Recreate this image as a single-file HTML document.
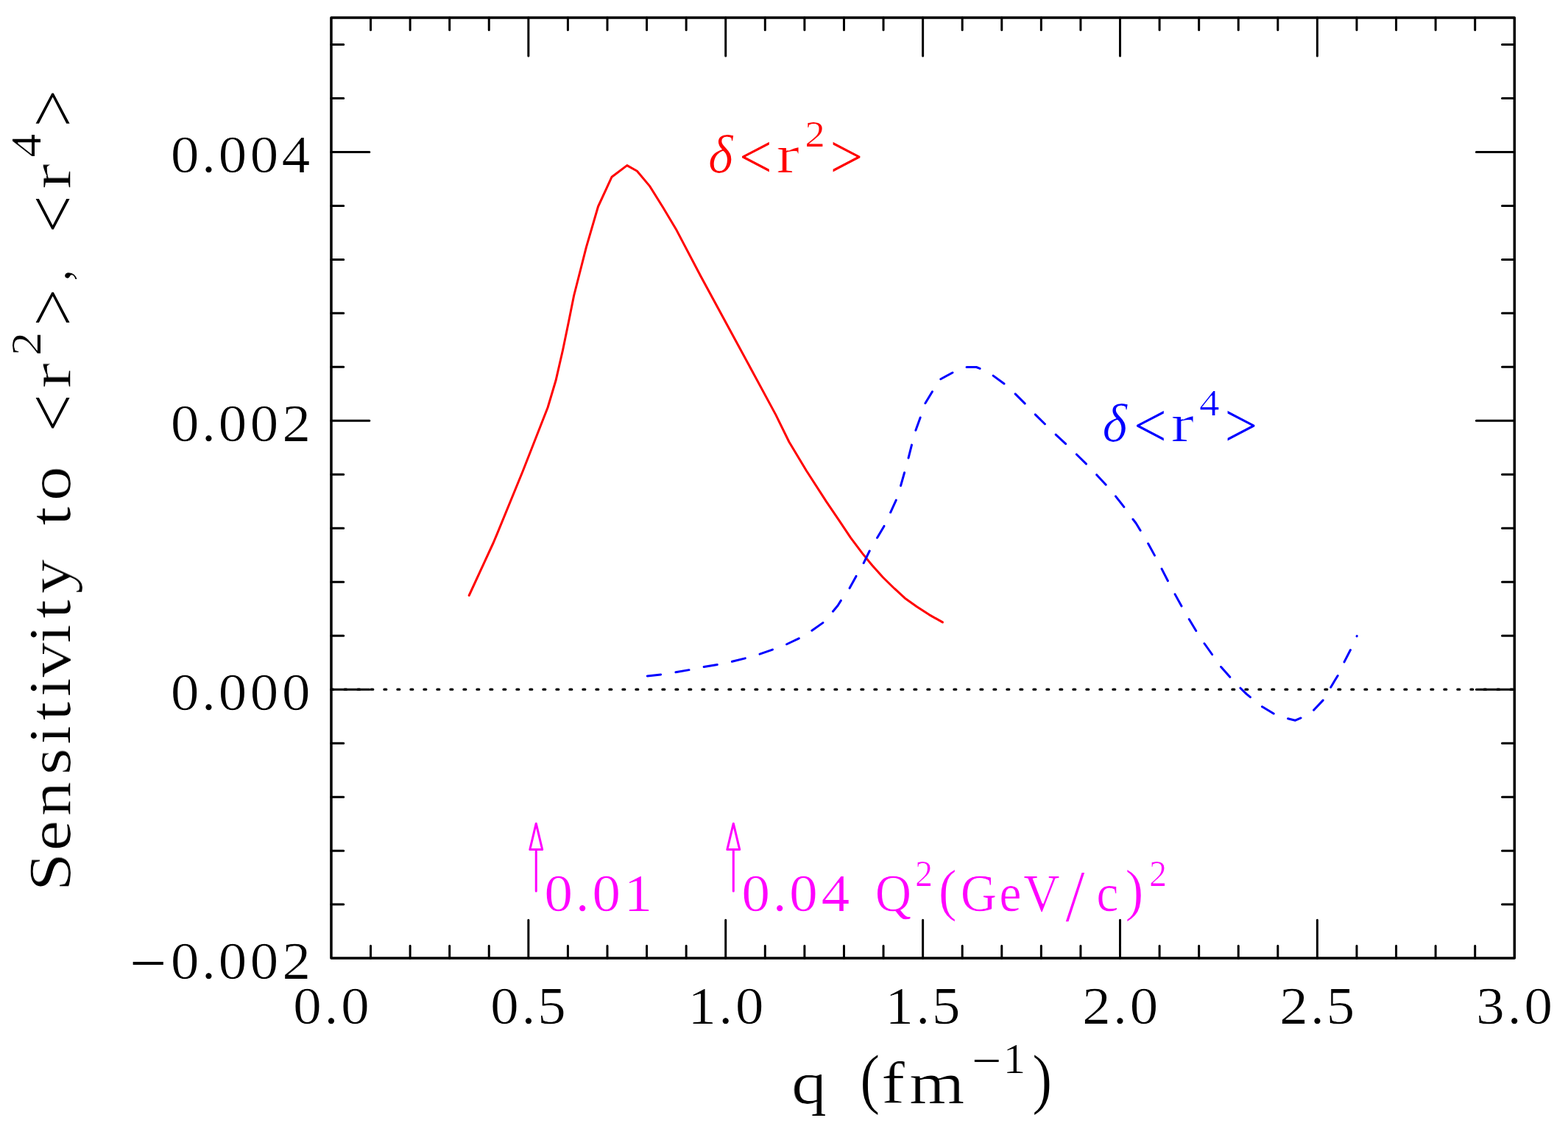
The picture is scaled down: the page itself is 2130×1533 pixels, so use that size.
<!DOCTYPE html>
<html lang="en">
<head>
<meta charset="utf-8">
<title>Sensitivity to &lt;r2&gt;, &lt;r4&gt; versus q</title>
<style>
html,body{margin:0;padding:0;background:#fff;}
body{width:2130px;height:1533px;overflow:hidden;}
svg{display:block;}
text{font-family:"Liberation Serif","DejaVu Serif",serif;white-space:pre;}
</style>
</head>
<body>
<svg width="2130" height="1533" viewBox="0 0 2130 1533">
<defs><filter id="t100h" x="-5%" y="-5%" width="110%" height="110%"><feOffset in="SourceGraphic" dx="1" dy="0" result="a"/><feComposite in="SourceGraphic" in2="a" operator="in"/></filter><filter id="t100v" x="-5%" y="-5%" width="110%" height="110%"><feOffset in="SourceGraphic" dx="0" dy="1" result="a"/><feComposite in="SourceGraphic" in2="a" operator="in"/></filter><filter id="t150h" x="-5%" y="-5%" width="110%" height="110%"><feOffset in="SourceGraphic" dx="1" dy="0" result="a"/><feOffset in="SourceGraphic" dx="2" dy="0" result="b"/><feComposite in="SourceGraphic" in2="a" operator="in" result="c"/><feComposite in="SourceGraphic" in2="b" operator="in" result="d"/><feComposite in="c" in2="d" operator="arithmetic" k1="0" k2="0.5" k3="0.5" k4="0"/></filter><filter id="t150v" x="-5%" y="-5%" width="110%" height="110%"><feOffset in="SourceGraphic" dx="0" dy="1" result="a"/><feOffset in="SourceGraphic" dx="0" dy="2" result="b"/><feComposite in="SourceGraphic" in2="a" operator="in" result="c"/><feComposite in="SourceGraphic" in2="b" operator="in" result="d"/><feComposite in="c" in2="d" operator="arithmetic" k1="0" k2="0.5" k3="0.5" k4="0"/></filter><filter id="t250h" x="-5%" y="-5%" width="110%" height="110%"><feOffset in="SourceGraphic" dx="2" dy="0" result="a"/><feOffset in="SourceGraphic" dx="3" dy="0" result="b"/><feComposite in="SourceGraphic" in2="a" operator="in" result="c"/><feComposite in="SourceGraphic" in2="b" operator="in" result="d"/><feComposite in="c" in2="d" operator="arithmetic" k1="0" k2="0.5" k3="0.5" k4="0"/></filter><filter id="t250v" x="-5%" y="-5%" width="110%" height="110%"><feOffset in="SourceGraphic" dx="0" dy="2" result="a"/><feOffset in="SourceGraphic" dx="0" dy="3" result="b"/><feComposite in="SourceGraphic" in2="a" operator="in" result="c"/><feComposite in="SourceGraphic" in2="b" operator="in" result="d"/><feComposite in="c" in2="d" operator="arithmetic" k1="0" k2="0.5" k3="0.5" k4="0"/></filter></defs>
<rect width="2130" height="1533" fill="#fff"/>
<rect x="449.95" y="24" width="1607.35" height="1277.1" fill="none" stroke="#000" stroke-width="3.5" stroke-linejoin="round"/>
<path d="M503.53 1301.1v-16.8M503.53 24v16.8M557.11 1301.1v-16.8M557.11 24v16.8M610.69 1301.1v-16.8M610.69 24v16.8M664.26 1301.1v-16.8M664.26 24v16.8M717.84 1301.1v-51.9M717.84 24v51.9M771.42 1301.1v-16.8M771.42 24v16.8M825 1301.1v-16.8M825 24v16.8M878.58 1301.1v-16.8M878.58 24v16.8M932.16 1301.1v-16.8M932.16 24v16.8M985.73 1301.1v-51.9M985.73 24v51.9M1039.31 1301.1v-16.8M1039.31 24v16.8M1092.89 1301.1v-16.8M1092.89 24v16.8M1146.47 1301.1v-16.8M1146.47 24v16.8M1200.05 1301.1v-16.8M1200.05 24v16.8M1253.62 1301.1v-51.9M1253.62 24v51.9M1307.2 1301.1v-16.8M1307.2 24v16.8M1360.78 1301.1v-16.8M1360.78 24v16.8M1414.36 1301.1v-16.8M1414.36 24v16.8M1467.94 1301.1v-16.8M1467.94 24v16.8M1521.52 1301.1v-51.9M1521.52 24v51.9M1575.1 1301.1v-16.8M1575.1 24v16.8M1628.67 1301.1v-16.8M1628.67 24v16.8M1682.25 1301.1v-16.8M1682.25 24v16.8M1735.83 1301.1v-16.8M1735.83 24v16.8M1789.41 1301.1v-51.9M1789.41 24v51.9M1842.99 1301.1v-16.8M1842.99 24v16.8M1896.57 1301.1v-16.8M1896.57 24v16.8M1950.14 1301.1v-16.8M1950.14 24v16.8M2003.72 1301.1v-16.8M2003.72 24v16.8M449.95 1228.12h16.8M2057.3 1228.12h-16.8M449.95 1155.15h16.8M2057.3 1155.15h-16.8M449.95 1082.17h16.8M2057.3 1082.17h-16.8M449.95 1009.19h16.8M2057.3 1009.19h-16.8M449.95 936.21h51.9M2057.3 936.21h-51.9M449.95 863.24h16.8M2057.3 863.24h-16.8M449.95 790.26h16.8M2057.3 790.26h-16.8M449.95 717.28h16.8M2057.3 717.28h-16.8M449.95 644.31h16.8M2057.3 644.31h-16.8M449.95 571.33h51.9M2057.3 571.33h-51.9M449.95 498.35h16.8M2057.3 498.35h-16.8M449.95 425.37h16.8M2057.3 425.37h-16.8M449.95 352.4h16.8M2057.3 352.4h-16.8M449.95 279.42h16.8M2057.3 279.42h-16.8M449.95 206.44h51.9M2057.3 206.44h-51.9M449.95 133.47h16.8M2057.3 133.47h-16.8M449.95 60.49h16.8M2057.3 60.49h-16.8" fill="none" stroke="#000" stroke-width="3.0" stroke-linecap="round"/>
<path d="M449.95 936.21H2057.3" fill="none" stroke="#000" stroke-width="3.3" stroke-linecap="round" stroke-dasharray="2.8 15.2"/>
<polyline points="637.2,808.5 670.2,737 675.3,724.8 710.1,640 744.1,553.3 755,516.8 764.5,475.5 772.1,438.8 779.6,401.5 796.4,335.7 812.5,280.5 831.1,240.2 851.8,224.6 865.4,232.2 882.5,252.6 900.4,281.3 919.1,312.6 952,375.2 1003,469.2 1053.8,563.1 1071.9,600 1095.5,639.2 1122.7,681.4 1140,706.8 1155.7,730.3 1171.3,751.1 1184.9,767.8 1199.5,784 1215.1,799.2 1229.2,812.2 1245.4,823.7 1262.1,834.6 1280.4,844.9" fill="none" stroke="#f00" stroke-width="3.0" stroke-linecap="round" stroke-linejoin="round"/>
<polyline points="879.29,917.94 898.2,915.9 916.8,913 936.3,909.6 955,905.7 975.3,902.3 993.1,898.6 1012.6,893.8 1031.3,888.4 1049.9,881.9 1067.7,875.2 1085.5,866.8 1102.2,856.7 1118.1,845.5 1131,830.7 1138.1,822.2 1142.9,814.6 1153.7,799.4 1163.5,781.5 1172.9,765.1 1181.7,747.1 1201.6,713.3 1209.3,696.6 1217.8,677.9 1223.4,660.1 1228.8,641.1 1233.9,622.5 1238.7,603.3 1243.8,584.6 1250.5,566 1256.8,547.8 1267,530.9 1277.2,515.1 1295,505.4 1311.9,498.5 1326.3,498.5 1331.9,500.7 1347.9,509.2 1364.5,521.4 1378.1,533.8 1392.5,548.2 1405.2,561.7 1419.9,576.2 1433.2,589.2 1448.4,603.3 1461.1,615.7 1476.1,630.4 1488.6,643.5 1502.7,658.7 1514.6,672.8 1527.3,688.9 1538.5,704.4 1543.2,710.5 1549.2,720.5 1559,736.8 1568.7,754.6 1577.7,771.6 1586.8,789.4 1595.8,806.3 1605.5,823.8 1615,840.3 1625.1,857.2 1635.7,873.3 1647.2,889.5 1658.1,904.9 1671.5,920.1 1684,933.3 1693,942.1 1699.2,947.2 1713.6,959 1731.4,969.8 1748.3,975.4 1759.6,978.2 1768.1,974.5 1783.9,965 1798,950 1807.2,934.2 1813.2,924.1 1817.7,916.7 1825.6,899.8 1834.9,881.7 1843.1,863.9 1843.27,863.54" fill="none" stroke="#00f" stroke-width="3.0" stroke-linecap="round" stroke-linejoin="round" stroke-dasharray="18.4 20.564"/>
<path d="M728.25 1210V1153.6M719.8 1153.6H736.7L728.25 1118.2Z" fill="none" stroke="#f0f" stroke-width="3" stroke-linecap="round" stroke-linejoin="round"/>
<path d="M996.3 1210V1153.6M987.85 1153.6H1004.75L996.3 1118.2Z" fill="none" stroke="#f0f" stroke-width="3" stroke-linecap="round" stroke-linejoin="round"/>
<g fill="#000"><g filter="url(#t100h)"><text xml:space="preserve" transform="scale(1.08 1)"><tspan x="214.08 253.08 274.08 313.99 353.76" y="233.94" font-size="72">0.004</tspan></text></g></g>
<g fill="#000"><g filter="url(#t100h)"><text xml:space="preserve" transform="scale(1.08 1)"><tspan x="214.08 253.08 274.08 313.99 354.3" y="598.83" font-size="72">0.002</tspan></text></g></g>
<g fill="#000"><g filter="url(#t100h)"><text xml:space="preserve" transform="scale(1.08 1)"><tspan x="214.08 253.08 274.08 313.99 353.9" y="963.71" font-size="72">0.000</tspan></text></g></g>
<g fill="#000"><g filter="url(#t100h)"><text xml:space="preserve" transform="scale(1.08 1)"><tspan x="162.34" y="1335.7" font-size="84">−</tspan><tspan x="214.08 253.08 274.08 313.99 354.3" y="1328.6" font-size="72">0.002</tspan></text></g></g>
<g fill="#000"><g filter="url(#t100h)"><text xml:space="preserve" transform="scale(1.08 1)"><tspan x="368.16 407.16 428.16" y="1390.4" font-size="72">0.0</tspan></text></g></g>
<g fill="#000"><g filter="url(#t100h)"><text xml:space="preserve" transform="scale(1.08 1)"><tspan x="616.21 655.21 675.52" y="1390.4" font-size="72">0.5</tspan></text></g></g>
<g fill="#000"><g filter="url(#t100h)"><text xml:space="preserve" transform="scale(1.08 1)"><tspan x="864.64 903.25 924.25" y="1390.4" font-size="72">1.0</tspan></text></g></g>
<g fill="#000"><g filter="url(#t100h)"><text xml:space="preserve" transform="scale(1.08 1)"><tspan x="1112.69 1151.3 1171.62" y="1390.4" font-size="72">1.5</tspan></text></g></g>
<g fill="#000"><g filter="url(#t100h)"><text xml:space="preserve" transform="scale(1.08 1)"><tspan x="1360.75 1399.35 1420.35" y="1390.4" font-size="72">2.0</tspan></text></g></g>
<g fill="#000"><g filter="url(#t100h)"><text xml:space="preserve" transform="scale(1.08 1)"><tspan x="1608.8 1647.4 1667.71" y="1390.4" font-size="72">2.5</tspan></text></g></g>
<g fill="#000"><g filter="url(#t100h)"><text xml:space="preserve" transform="scale(1.08 1)"><tspan x="1856.13 1895.44 1916.44" y="1390.4" font-size="72">3.0</tspan></text></g></g>
<g fill="#000"><g filter="url(#t150h)"><text xml:space="preserve" transform="scale(1.2 1)"><tspan x="894.93 950" y="1497.6" font-size="81">q </tspan></text></g><g filter="url(#t100h)"><text xml:space="preserve" transform="scale(0.9 1)"><tspan x="1297.25" y="1494.9" font-size="91.7">(</tspan></text></g><g filter="url(#t150h)"><text xml:space="preserve" transform="scale(1.2 1)"><tspan x="996.89 1028.61" y="1497.6" font-size="81">fm</tspan></text></g><g filter="url(#t100h)"><text xml:space="preserve" transform="scale(1.1 1)"><tspan x="1199.22" y="1462.31" font-size="66">−</tspan><tspan x="1238" y="1457.2" font-size="57">1</tspan></text></g><g filter="url(#t100h)"><text xml:space="preserve" transform="scale(0.9 1)"><tspan x="1557.1" y="1494.9" font-size="91.7">)</tspan></text></g></g>
<g fill="#000"><g filter="url(#t150v)"><text xml:space="preserve" transform="translate(94.8 0) rotate(-90) scale(1.17 1)"><tspan x="-1034.05 -987.13 -946.85 -899.04 -863.77 -835.98 -808.3 -785.72 -746.12 -717.61 -688.71" y="0" font-size="81">Sensitivity</tspan><tspan x="-641.03 -609.66 -580.76 -529.91" y="0" font-size="81"> to </tspan></text></g><g filter="url(#t100v)"><text xml:space="preserve" transform="translate(94.8 0) rotate(-90) scale(0.94 1)"><tspan x="-623.36" y="8.83" font-size="97">&lt;</tspan></text></g><g filter="url(#t250v)"><text xml:space="preserve" transform="translate(94.8 0) rotate(-90) scale(1.38 1)"><tspan x="-381.82" y="0" font-size="79">r</tspan></text></g><g filter="url(#t100v)"><text xml:space="preserve" transform="translate(94.8 0) rotate(-90) scale(1.12 1)"><tspan x="-430.84" y="-39.6" font-size="57.5">2</tspan></text></g><g filter="url(#t100v)"><text xml:space="preserve" transform="translate(94.8 0) rotate(-90) scale(0.94 1)"><tspan x="-470.9" y="8.83" font-size="97">&gt;</tspan></text></g><g filter="url(#t100v)"><text xml:space="preserve" transform="translate(94.8 0) rotate(-90)"><tspan x="-381.58 -350" y="0" font-size="66">, </tspan></text></g><g filter="url(#t100v)"><text xml:space="preserve" transform="translate(94.8 0) rotate(-90) scale(0.94 1)"><tspan x="-336.18" y="8.83" font-size="97">&lt;</tspan></text></g><g filter="url(#t250v)"><text xml:space="preserve" transform="translate(94.8 0) rotate(-90) scale(1.38 1)"><tspan x="-185.84" y="0" font-size="79">r</tspan></text></g><g filter="url(#t100v)"><text xml:space="preserve" transform="translate(94.8 0) rotate(-90) scale(1.12 1)"><tspan x="-190.47" y="-39.6" font-size="57.5">4</tspan></text></g><g filter="url(#t100v)"><text xml:space="preserve" transform="translate(94.8 0) rotate(-90) scale(0.94 1)"><tspan x="-183.61" y="8.83" font-size="97">&gt;</tspan></text></g></g>
<g fill="#f00"><g filter="url(#t100h)"><text xml:space="preserve"><tspan x="961.41" y="234" font-size="72.5" font-style="italic">δ</tspan></text></g><g filter="url(#t100h)"><text xml:space="preserve" transform="scale(0.93 1)"><tspan x="1078.51" y="241.94" font-size="87.3">&lt;</tspan></text></g><g filter="url(#t250h)"><text xml:space="preserve" transform="scale(1.38 1)"><tspan x="762.92" y="234" font-size="71">r</tspan></text></g><g filter="url(#t100h)"><text xml:space="preserve" transform="scale(1.1 1)"><tspan x="993.53" y="199.2" font-size="50.3">2</tspan></text></g><g filter="url(#t100h)"><text xml:space="preserve" transform="scale(0.93 1)"><tspan x="1211.22" y="241.94" font-size="87.3">&gt;</tspan></text></g></g>
<g fill="#00f"><g filter="url(#t100h)"><text xml:space="preserve"><tspan x="1497.11" y="598.9" font-size="72.5" font-style="italic">δ</tspan></text></g><g filter="url(#t100h)"><text xml:space="preserve" transform="scale(0.93 1)"><tspan x="1654.91" y="606.84" font-size="87.3">&lt;</tspan></text></g><g filter="url(#t250h)"><text xml:space="preserve" transform="scale(1.38 1)"><tspan x="1151.33" y="598.9" font-size="71">r</tspan></text></g><g filter="url(#t100h)"><text xml:space="preserve" transform="scale(1.1 1)"><tspan x="1480.37" y="564" font-size="50.3">4</tspan></text></g><g filter="url(#t100h)"><text xml:space="preserve" transform="scale(0.93 1)"><tspan x="1787.51" y="606.84" font-size="87.3">&gt;</tspan></text></g></g>
<g fill="#f0f"><g filter="url(#t100h)"><text xml:space="preserve" transform="scale(1.08 1)"><tspan x="683.99 723.13 744.27 784.19" y="1237.2" font-size="72">0.01</tspan></text></g></g>
<g fill="#f0f"><g filter="url(#t100h)"><text xml:space="preserve" transform="scale(1.08 1)"><tspan x="932.19 971.19 992.23 1032.32 1078.7" y="1237.2" font-size="72">0.04 </tspan></text></g><g filter="url(#t100h)"><text xml:space="preserve" transform="scale(0.95 1)"><tspan x="1250.93" y="1237.2" font-size="72">Q</tspan><tspan x="1307.85" y="1203.2" font-size="51">2</tspan><tspan x="1341.44" y="1234.9" font-size="79">(</tspan><tspan x="1372.86 1428.07 1463" y="1237.2" font-size="72">GeV</tspan><tspan x="1523" y="1249.8" font-size="100">/</tspan><tspan x="1567.13" y="1237.2" font-size="72">c</tspan><tspan x="1608.31" y="1234.9" font-size="79">)</tspan><tspan x="1642.54" y="1203.2" font-size="51">2</tspan></text></g></g>
</svg>
</body>
</html>
